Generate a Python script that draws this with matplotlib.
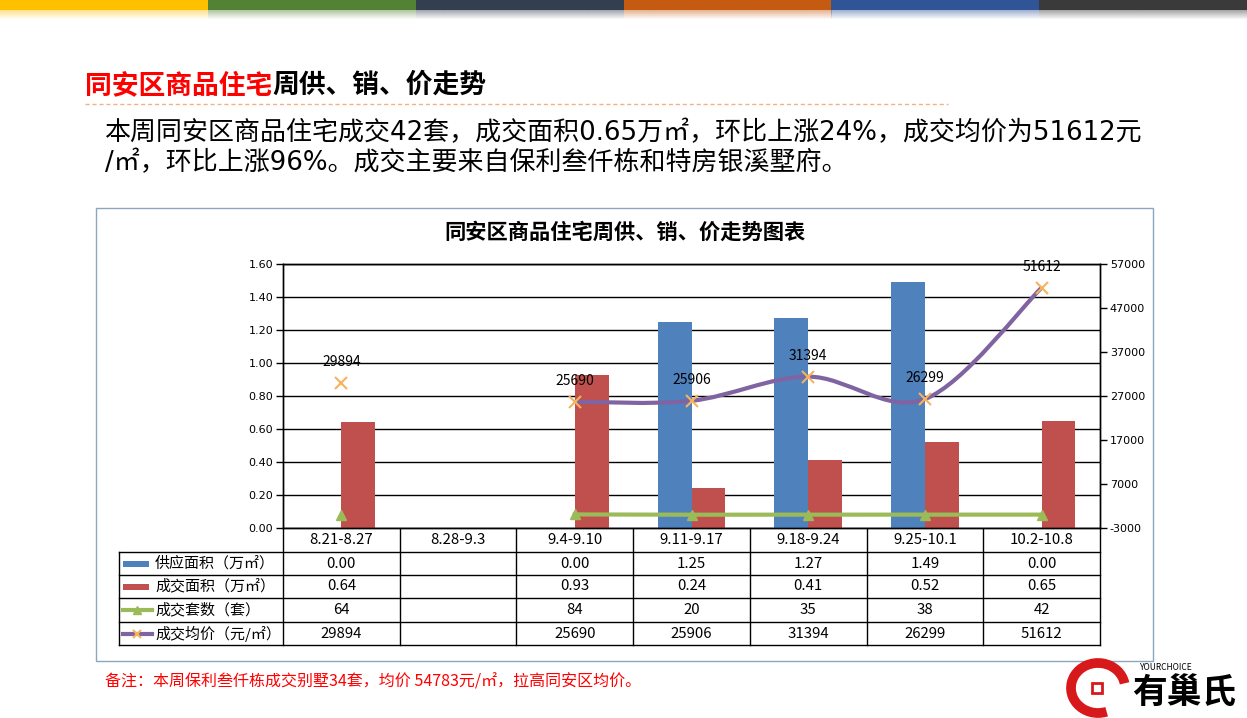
import numpy as np
import matplotlib
matplotlib.use('Agg')
import matplotlib.pyplot as plt
from matplotlib.path import Path
from matplotlib.patches import PathPatch, Rectangle, Arc
from matplotlib.ticker import FormatStrFormatter

plt.rcParams['font.family'] = ['Noto Sans CJK SC', 'DejaVu Sans']
plt.rcParams['axes.unicode_minus'] = False

# 数据
weeks = ['8.21-8.27', '8.28-9.3', '9.4-9.10', '9.11-9.17', '9.18-9.24', '9.25-10.1', '10.2-10.8']
supply_area = [0.00, np.nan, 0.00, 1.25, 1.27, 1.49, 0.00]      # 供应面积(万㎡)
deal_area = [0.64, np.nan, 0.93, 0.24, 0.41, 0.52, 0.65]        # 成交面积(万㎡)
deal_units = [64, np.nan, 84, 20, 35, 38, 42]                   # 成交套数(套)
avg_price = [29894, np.nan, 25690, 25906, 31394, 26299, 51612]  # 成交均价(元/㎡)
row_names = ['供应面积（万㎡）', '成交面积（万㎡）', '成交套数（套）', '成交均价（元/㎡）']
top_colors = ['#FFC000', '#548235', '#333F50', '#C55A11', '#2F5597', '#3A3A3A']

c_blue, c_red, c_green, c_purple, c_mark = '#4F81BD', '#C0504D', '#9BBB59', '#8064A2', '#F7B35C'
mixed = ['DejaVu Sans', 'Noto Sans CJK SC']  # 数字用较宽字体

W, H = 1247, 718
fig = plt.figure(figsize=(W / 100, H / 100), dpi=100)
bg = fig.add_axes([0, 0, 1, 1])
bg.set_xlim(0, W)
bg.set_ylim(H, 0)
bg.axis('off')

# 顶部彩条
seg = W / len(top_colors)
fade = np.linspace(0.45, 0, 10)
for i, c in enumerate(top_colors):
    bg.add_patch(Rectangle((i * seg, 0), seg, 10, color=c, lw=0))
    rgb = matplotlib.colors.to_rgb(c)
    img = np.zeros((10, 1, 4))
    img[:, 0, :3] = rgb
    img[:, 0, 3] = fade
    bg.imshow(img, extent=(i * seg, (i + 1) * seg, 20, 10), aspect='auto', interpolation='bilinear')
bg.set_xlim(0, W)
bg.set_ylim(H, 0)

# 标题
t1 = bg.text(85, 85, '同安区商品住宅', color='#FF0000', fontsize=19.3, weight='bold', va='center')
fig.canvas.draw()
bb = t1.get_window_extent()
bg.text(bb.x1, 85, '周供、销、价走势', color='black', fontsize=19.3, weight='bold', va='center')
bg.plot([85, 948], [104, 104], ls=(0, (3, 2)), color='#F4B183', lw=1)

bg.text(105, 133, '本周同安区商品住宅成交42套，成交面积0.65万㎡，环比上涨24%，成交均价为51612元',
        fontsize=18.7, va='center', family=mixed)
bg.text(105, 163, '/㎡，环比上涨96%。成交主要来自保利叁仟栋和特房银溪墅府。', fontsize=18.7,
        va='center', family=mixed)

# 图表外框
bg.add_patch(Rectangle((96, 208), 1057, 453, fill=False, edgecolor='#8DA6BE', lw=1))
bg.text(625, 232, '同安区商品住宅周供、销、价走势图表', fontsize=15.3, weight='bold', ha='center', va='center')

# 图表区
L, R, T, B = 283, 1100, 264, 528
ax = fig.add_axes([L / W, 1 - B / H, (R - L) / W, (B - T) / H])
x = np.arange(len(weeks))
bw = 0.29
ax.bar(x - bw / 2, supply_area, width=bw, color=c_blue, zorder=2)
ax.bar(x + bw / 2, deal_area, width=bw, color=c_red, zorder=2)
ax.set_xlim(-0.5, len(weeks) - 0.5)
ax.set_ylim(0, 1.6)
ax.set_yticks(np.arange(0, 1.61, 0.2))
ax.yaxis.set_major_formatter(FormatStrFormatter('%.2f'))
ax.grid(axis='y', color='black', lw=1, zorder=0)
ax.set_xticks([])
ax.tick_params(axis='y', direction='out', length=5, width=1, labelsize=8, pad=2)
for s in ax.spines.values():
    s.set_color('black')
    s.set_linewidth(1)

ax2 = ax.twinx()
ax2.set_ylim(-3000, 57000)
ax2.set_yticks(np.arange(-3000, 57001, 10000))
ax2.tick_params(axis='y', direction='out', length=5, width=1, labelsize=8, pad=2)
for s in ax2.spines.values():
    s.set_color('black')
    s.set_linewidth(1)
for lab in ax.get_yticklabels() + ax2.get_yticklabels():
    lab.set_family('DejaVu Sans')

ax2.plot(x, deal_units, color=c_green, lw=3, marker='^', ms=7, mfc=c_green, mec=c_green, zorder=3)


def smooth_path(xs, ys):
    # 平滑曲线 (Catmull-Rom 转贝塞尔)
    pts = np.column_stack([xs, ys])
    verts = [pts[0]]
    codes = [Path.MOVETO]
    n = len(pts)
    for i in range(n - 1):
        p0 = pts[max(i - 1, 0)]
        p1 = pts[i]
        p2 = pts[i + 1]
        p3 = pts[min(i + 2, n - 1)]
        verts += [p1 + (p2 - p0) / 6, p2 - (p3 - p1) / 6, p2]
        codes += [Path.CURVE4] * 3
    return Path(verts, codes)


price = np.array(avg_price, float)
ok = ~np.isnan(price)
start = None
for i in range(len(price) + 1):
    if i < len(price) and ok[i]:
        if start is None:
            start = i
    else:
        if start is not None and i - start > 1:
            ax2.add_patch(PathPatch(smooth_path(x[start:i], price[start:i]), fill=False,
                                    edgecolor=c_purple, lw=3, zorder=4))
        start = None
ax2.plot(x, price, ls='none', marker='x', ms=8, mew=1.5, color=c_mark, zorder=5)
for xi, v in zip(x, price):
    if not np.isnan(v):
        ax2.annotate(f'{v:.0f}', (xi, v), xytext=(0, 15), textcoords='offset points',
                     ha='center', va='center', fontsize=10, zorder=6)

# 数据表
col_edges = np.linspace(L, R, len(weeks) + 1)
row_edges = [528, 552, 575, 598, 622, 645]
TL = 119
for y in row_edges[1:]:
    bg.plot([TL, R], [y, y], color='black', lw=1)
for xe in col_edges:
    bg.plot([xe, xe], [528, 645], color='black', lw=1)
bg.plot([TL, TL], [552, 645], color='black', lw=1)

fs_tab = 10.8
centers = (col_edges[:-1] + col_edges[1:]) / 2
for cx, w in zip(centers, weeks):
    bg.text(cx, 540, w, ha='center', va='center', fontsize=fs_tab)

rows = [
    ['' if np.isnan(v) else f'{v:.2f}' for v in supply_area],
    ['' if np.isnan(v) else f'{v:.2f}' for v in deal_area],
    ['' if np.isnan(v) else f'{v:.0f}' for v in deal_units],
    ['' if np.isnan(v) else f'{v:.0f}' for v in avg_price],
]
for r, (name, vals) in enumerate(zip(row_names, rows)):
    yc = (row_edges[r + 1] + row_edges[r + 2]) / 2
    bg.text(155, yc, name, va='center', fontsize=fs_tab)
    for cx, s in zip(centers, vals):
        bg.text(cx, yc, s, ha='center', va='center', fontsize=fs_tab)

# 图例标记
ys = [(row_edges[r + 1] + row_edges[r + 2]) / 2 for r in range(4)]
bg.add_patch(Rectangle((123, ys[0] - 3), 26, 6, color=c_blue, lw=0))
bg.add_patch(Rectangle((123, ys[1] - 3), 26, 6, color=c_red, lw=0))
bg.plot([123, 152], [ys[2], ys[2]], color=c_green, lw=3)
bg.plot([137], [ys[2]], marker='^', ms=6, color=c_green)
bg.plot([123, 152], [ys[3], ys[3]], color=c_purple, lw=3)
bg.plot([137], [ys[3]], marker='x', ms=6, mew=1.5, color=c_mark)

# 备注
bg.text(105, 682, '备注：本周保利叁仟栋成交别墅34套，均价 54783元/㎡，拉高同安区均价。',
        color='#FF0000', fontsize=11.5, va='center')

# 标志
bg.add_patch(Arc((1098, 688), 54, 50, theta1=70, theta2=350, color='#D7191C', lw=7))
bg.add_patch(Rectangle((1092, 683), 10, 10, facecolor='white', edgecolor='#D7191C', lw=2))
bg.text(1140, 667, 'YOURCHOICE', fontsize=6, style='italic', va='center')
bg.text(1132, 692, '有巢氏', fontsize=25, weight='bold', va='center')

fig.savefig('out.png', dpi=100)
